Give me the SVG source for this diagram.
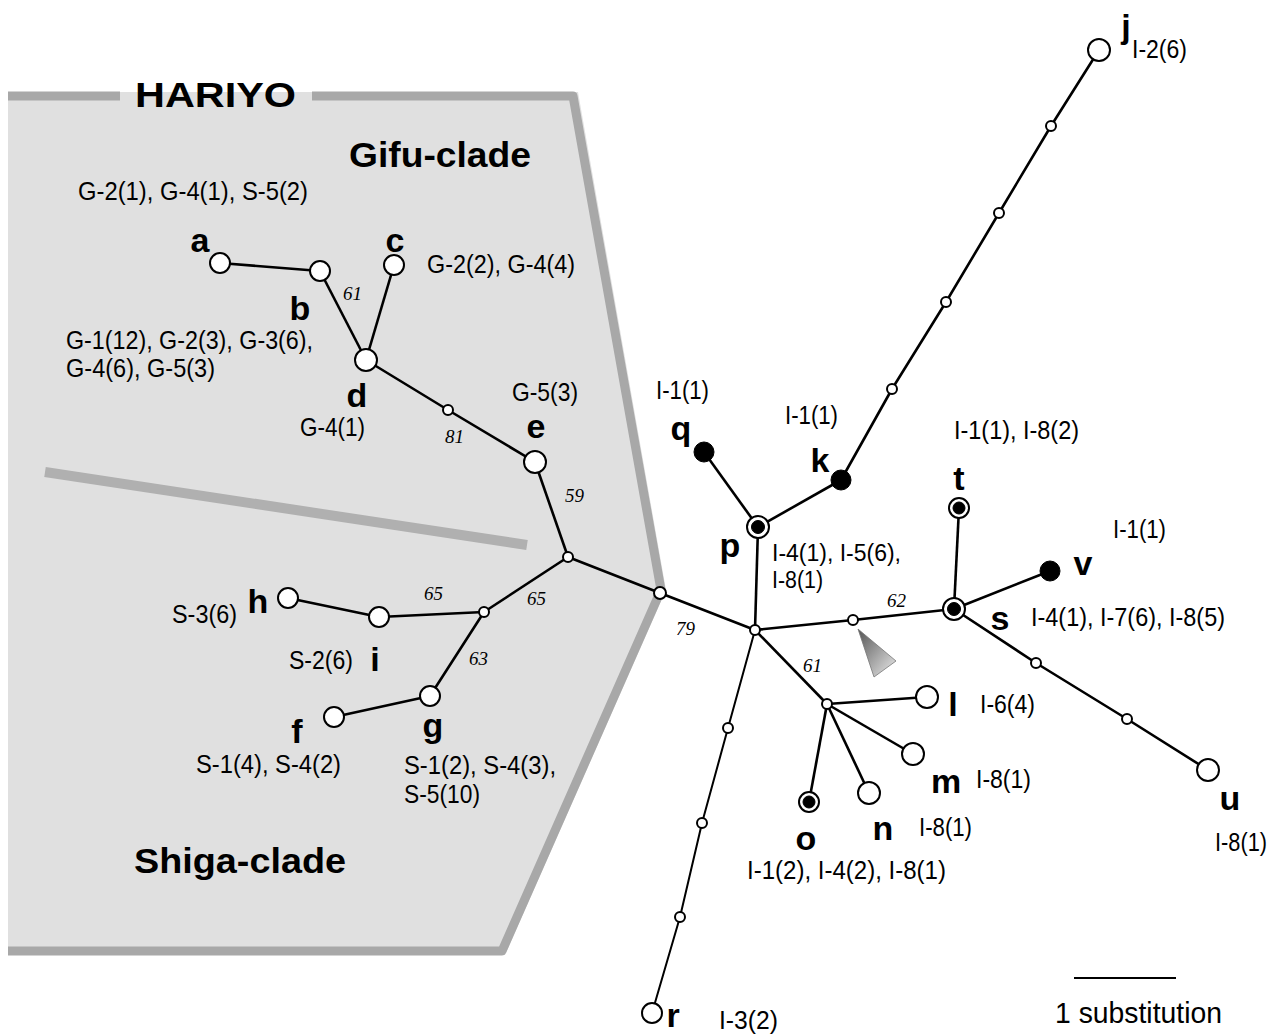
<svg xmlns="http://www.w3.org/2000/svg" width="1279" height="1034" viewBox="0 0 1279 1034">
<defs>
<style>
.e{stroke:#000;stroke-width:2.6;fill:none;stroke-linejoin:round}
.o{fill:#fff;stroke:#000;stroke-width:2}
.b{fill:#000;stroke:#000;stroke-width:1}
.L{font-family:"Liberation Sans",Arial,sans-serif;font-weight:bold;font-size:34px;fill:#000;text-anchor:middle}
.t{font-family:"Liberation Sans",Arial,sans-serif;font-size:25px;fill:#000}
.n{font-family:"Liberation Serif","Times New Roman",serif;font-style:italic;font-size:19px;fill:#000}
.H{font-family:"Liberation Sans",Arial,sans-serif;font-weight:bold;font-size:35px;fill:#000}
</style>
<linearGradient id="tri" x1="0" y1="0" x2="1" y2="1">
<stop offset="0" stop-color="#555"/>
<stop offset="1" stop-color="#ececec"/>
</linearGradient>
</defs>

<g id="hariyo-region">
<polygon points="8,92 578,92 666,590 505,955 8,955" fill="#e0e0e0"/>
<polyline points="8,96 120,96" fill="none" stroke="#a8a8a8" stroke-width="9"/>
<polyline points="312,96 573,96 661,590 502,951 8,951" fill="none" stroke="#a8a8a8" stroke-width="9" stroke-linejoin="round"/>
<line x1="45" y1="472" x2="527" y2="545" stroke="#b0b0b0" stroke-width="10"/>
<text class="H" x="135" y="107" textLength="161" lengthAdjust="spacingAndGlyphs">HARIYO</text>
<text class="H" x="349" y="167" textLength="182" lengthAdjust="spacingAndGlyphs">Gifu-clade</text>
<text class="H" x="134" y="873" textLength="212" lengthAdjust="spacingAndGlyphs">Shiga-clade</text>
</g>

<g id="connectors">
<polyline class="e" points="220,263 320,271"/>
<polyline class="e" points="320,271 366,360"/>
<polyline class="e" points="394,265 366,360"/>
<polyline class="e" points="366,360 448,410 535,462"/>
<polyline class="e" points="535,462 568,557"/>
<polyline class="e" points="568,557 484,612"/>
<polyline class="e" points="484,612 379,617 288,598"/>
<polyline class="e" points="484,612 430,696 334,717"/>
<polyline class="e" points="568,557 660,593 755,630"/>
<polyline class="e" points="755,630 758,527"/>
<polyline class="e" points="758,527 704,452"/>
<polyline class="e" points="758,527 841,480"/>
<polyline class="e" points="841,480 892,389 946,302 999,213 1051,126 1099,50"/>
<polyline class="e" points="755,630 853,620 954,609"/>
<polyline class="e" points="954,609 959,508"/>
<polyline class="e" points="954,609 1050,571"/>
<polyline class="e" points="954,609 1036,663 1127,719 1208,770"/>
<polyline class="e" points="755,630 827,704"/>
<polyline class="e" points="827,704 927,697"/>
<polyline class="e" points="827,704 913,754"/>
<polyline class="e" points="827,704 869,793"/>
<polyline class="e" points="827,704 809,802"/>
<polyline class="e" style="stroke-width:2" points="755,630 728,728 702,823 680,917 652,1013"/>
</g>

<g id="node-a"><circle class="o" cx="220" cy="263" r="10"/><text class="L" x="200" y="252">a</text>
<text class="t" x="78" y="200" textLength="230" lengthAdjust="spacingAndGlyphs">G-2(1), G-4(1), S-5(2)</text></g>
<g id="node-b"><circle class="o" cx="320" cy="271" r="10"/><text class="L" x="300" y="320">b</text>
<text class="t" x="66" y="349" textLength="247" lengthAdjust="spacingAndGlyphs">G-1(12), G-2(3), G-3(6),</text>
<text class="t" x="66" y="377" textLength="149" lengthAdjust="spacingAndGlyphs">G-4(6), G-5(3)</text></g>
<g id="node-c"><circle class="o" cx="394" cy="265" r="10"/><text class="L" x="395" y="252">c</text>
<text class="t" x="427" y="273" textLength="148" lengthAdjust="spacingAndGlyphs">G-2(2), G-4(4)</text></g>
<g id="node-d"><circle class="o" cx="366" cy="360" r="11"/><text class="L" x="357" y="407">d</text>
<text class="t" x="300" y="436" textLength="65" lengthAdjust="spacingAndGlyphs">G-4(1)</text></g>
<g id="node-de"><circle class="o" cx="448" cy="410" r="5"/></g>
<g id="node-e"><circle class="o" cx="535" cy="462" r="11"/><text class="L" x="536" y="438">e</text>
<text class="t" x="512" y="401" textLength="66" lengthAdjust="spacingAndGlyphs">G-5(3)</text></g>
<g id="node-j1"><circle class="o" cx="568" cy="557" r="5"/></g>
<g id="node-j2"><circle class="o" cx="484" cy="612" r="5"/></g>
<g id="node-h"><circle class="o" cx="288" cy="598" r="10"/><text class="L" x="258" y="613">h</text>
<text class="t" x="172" y="623" textLength="65" lengthAdjust="spacingAndGlyphs">S-3(6)</text></g>
<g id="node-i"><circle class="o" cx="379" cy="617" r="10"/><text class="L" x="375" y="671">i</text>
<text class="t" x="289" y="669" textLength="64" lengthAdjust="spacingAndGlyphs">S-2(6)</text></g>
<g id="node-g"><circle class="o" cx="430" cy="696" r="10"/><text class="L" x="433" y="737">g</text>
<text class="t" x="404" y="774" textLength="152" lengthAdjust="spacingAndGlyphs">S-1(2), S-4(3),</text>
<text class="t" x="404" y="803" textLength="76" lengthAdjust="spacingAndGlyphs">S-5(10)</text></g>
<g id="node-f"><circle class="o" cx="334" cy="717" r="10"/><text class="L" x="297" y="743">f</text>
<text class="t" x="196" y="773" textLength="145" lengthAdjust="spacingAndGlyphs">S-1(4), S-4(2)</text></g>
<g id="node-j3"><circle class="o" cx="660" cy="593" r="6"/></g>
<g id="node-center"><circle class="o" cx="755" cy="630" r="5"/></g>
<g id="node-p"><circle class="o" cx="758" cy="527" r="11"/><circle class="b" cx="758" cy="527" r="6.5"/><text class="L" x="730" y="557">p</text>
<text class="t" style="font-size:23px" x="772" y="561" textLength="129" lengthAdjust="spacingAndGlyphs">I-4(1), I-5(6),</text>
<text class="t" style="font-size:23px" x="772" y="588" textLength="51" lengthAdjust="spacingAndGlyphs">I-8(1)</text></g>
<g id="node-q"><circle class="b" cx="704" cy="452" r="10"/><text class="L" x="681" y="440">q</text>
<text class="t" x="656" y="399" textLength="53" lengthAdjust="spacingAndGlyphs">I-1(1)</text></g>
<g id="node-k"><circle class="b" cx="841" cy="480" r="10"/><text class="L" x="820" y="472">k</text>
<text class="t" x="785" y="424" textLength="53" lengthAdjust="spacingAndGlyphs">I-1(1)</text></g>
<g id="node-kj1"><circle class="o" cx="892" cy="389" r="5"/></g>
<g id="node-kj2"><circle class="o" cx="946" cy="302" r="5"/></g>
<g id="node-kj3"><circle class="o" cx="999" cy="213" r="5"/></g>
<g id="node-kj4"><circle class="o" cx="1051" cy="126" r="5"/></g>
<g id="node-j"><circle class="o" cx="1099" cy="50" r="11"/><text class="L" x="1126" y="38">j</text>
<text class="t" x="1132" y="58" textLength="55" lengthAdjust="spacingAndGlyphs">I-2(6)</text></g>
<g id="node-ps"><circle class="o" cx="853" cy="620" r="5"/>
<polygon points="858,629 874,677 896,661" fill="url(#tri)" stroke="#777" stroke-width="0.8"/></g>
<g id="node-s"><circle class="o" cx="954" cy="609" r="11"/><circle class="b" cx="954" cy="609" r="6.5"/><text class="L" x="1000" y="630">s</text>
<text class="t" x="1031" y="626" textLength="194" lengthAdjust="spacingAndGlyphs">I-4(1), I-7(6), I-8(5)</text></g>
<g id="node-t"><circle class="o" cx="959" cy="508" r="10"/><circle class="b" cx="959" cy="508" r="6"/><text class="L" x="959" y="490">t</text>
<text class="t" x="954" y="439" textLength="125" lengthAdjust="spacingAndGlyphs">I-1(1), I-8(2)</text></g>
<g id="node-v"><circle class="b" cx="1050" cy="571" r="10"/><text class="L" x="1083" y="575">v</text>
<text class="t" x="1113" y="538" textLength="53" lengthAdjust="spacingAndGlyphs">I-1(1)</text></g>
<g id="node-su1"><circle class="o" cx="1036" cy="663" r="5"/></g>
<g id="node-su2"><circle class="o" cx="1127" cy="719" r="5"/></g>
<g id="node-u"><circle class="o" cx="1208" cy="770" r="11"/><text class="L" x="1230" y="810">u</text>
<text class="t" x="1215" y="851" textLength="52" lengthAdjust="spacingAndGlyphs">I-8(1)</text></g>
<g id="node-j4"><circle class="o" cx="827" cy="704" r="5"/></g>
<g id="node-l"><circle class="o" cx="927" cy="697" r="11"/><text class="L" x="953" y="716">l</text>
<text class="t" x="980" y="713" textLength="55" lengthAdjust="spacingAndGlyphs">I-6(4)</text></g>
<g id="node-m"><circle class="o" cx="913" cy="754" r="11"/><text class="L" x="946" y="793">m</text>
<text class="t" x="976" y="788" textLength="55" lengthAdjust="spacingAndGlyphs">I-8(1)</text></g>
<g id="node-n"><circle class="o" cx="869" cy="793" r="11"/><text class="L" x="883" y="840">n</text>
<text class="t" x="919" y="836" textLength="53" lengthAdjust="spacingAndGlyphs">I-8(1)</text></g>
<g id="node-o"><circle class="o" cx="809" cy="802" r="10"/><circle class="b" cx="809" cy="802" r="6"/><text class="L" x="806" y="850">o</text>
<text class="t" x="747" y="879" textLength="199" lengthAdjust="spacingAndGlyphs">I-1(2), I-4(2), I-8(1)</text></g>
<g id="node-cr1"><circle class="o" cx="728" cy="728" r="5"/></g>
<g id="node-cr2"><circle class="o" cx="702" cy="823" r="5"/></g>
<g id="node-cr3"><circle class="o" cx="680" cy="917" r="5"/></g>
<g id="node-r"><circle class="o" cx="652" cy="1013" r="10"/><text class="L" x="673" y="1027">r</text>
<text class="t" x="719" y="1029" textLength="59" lengthAdjust="spacingAndGlyphs">I-3(2)</text></g>

<g id="bootstrap">
<text class="n" x="343" y="300">61</text>
<text class="n" x="445" y="443">81</text>
<text class="n" x="565" y="502">59</text>
<text class="n" x="424" y="600">65</text>
<text class="n" x="527" y="605">65</text>
<text class="n" x="469" y="665">63</text>
<text class="n" x="676" y="635">79</text>
<text class="n" x="887" y="607">62</text>
<text class="n" x="803" y="672">61</text>
</g>

<g id="scale">
<line x1="1074" y1="978" x2="1176" y2="978" stroke="#000" stroke-width="2"/>
<text class="t" style="font-size:30px" x="1055" y="1023" textLength="167" lengthAdjust="spacingAndGlyphs">1 substitution</text>
</g>
</svg>
